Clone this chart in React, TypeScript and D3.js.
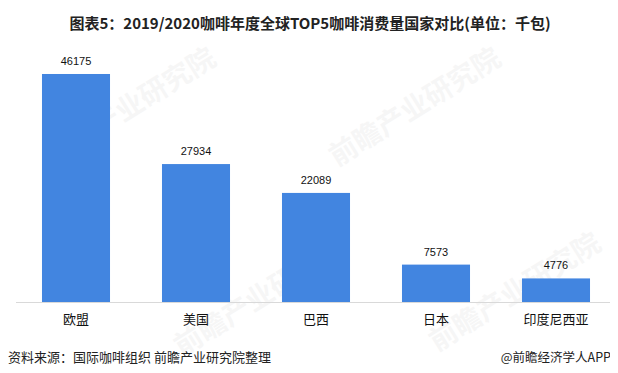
import React from "react";
import * as d3 from "d3";

const categories = ["欧盟", "美国", "巴西", "日本", "印度尼西亚"];
const values = [46175, 27934, 22089, 7573, 4776];
const title = "图表5：2019/2020咖啡年度全球TOP5咖啡消费量国家对比(单位：千包)";
const source = "资料来源：国际咖啡组织 前瞻产业研究院整理";
const credit = "@前瞻经济学人APP";

const W = 618;
const H = 373;

export default function App() {
  const x = d3
    .scaleBand<string>()
    .domain(categories)
    .range([16, 616])
    .paddingInner(0.433)
    .paddingOuter(0.2165);
  const y = d3.scaleLinear().domain([0, 50000]).range([302, 55.1]);
  const cjk = "'Noto Sans CJK SC', 'Noto Sans', sans-serif";

  const marks = [
    [135, 115],
    [420, 115],
    [265, 305],
    [520, 300],
  ];

  return (
    <div style={{ margin: -8 }}>
      <svg width={W} height={H} style={{ display: "block", background: "#fff" }}>
        {marks.map(([mx, my], i) => (
          <text
            key={i}
            transform={`translate(${mx},${my}) rotate(-32)`}
            textAnchor="middle"
            fontFamily={cjk}
            fontWeight={700}
            fontSize={28}
            fill="#000"
            opacity={0.03}
          >
            前瞻产业研究院
          </text>
        ))}
        <text
          x={W / 2 + 1}
          y={29}
          textAnchor="middle"
          fontFamily={cjk}
          fontWeight={700}
          fontSize={15}
          fill="#222"
        >
          {title}
        </text>
        <line x1={16} x2={617} y1={302.5} y2={302.5} stroke="#d9d9d9" strokeWidth={1} />
        {categories.map((c, i) => (
          <g key={c}>
            <rect
              x={x(c)}
              y={y(values[i])}
              width={x.bandwidth()}
              height={y(0) - y(values[i])}
              fill="#4285E0"
            />
            <text
              x={(x(c) as number) + x.bandwidth() / 2}
              y={y(values[i]) - 9}
              textAnchor="middle"
              fontFamily="'Liberation Sans', Arial, sans-serif"
              fontSize={11}
              fill="#111"
            >
              {values[i]}
            </text>
            <text
              x={(x(c) as number) + x.bandwidth() / 2}
              y={324}
              textAnchor="middle"
              fontFamily={cjk}
              fontSize={13}
              fill="#111"
            >
              {c}
            </text>
          </g>
        ))}
        <text x={8} y={362} fontFamily={cjk} fontSize={13} fill="#222">
          {source}
        </text>
        <text x={611} y={362} textAnchor="end" fontFamily={cjk} fontSize={12.5} fill="#222">
          {credit}
        </text>
      </svg>
    </div>
  );
}
